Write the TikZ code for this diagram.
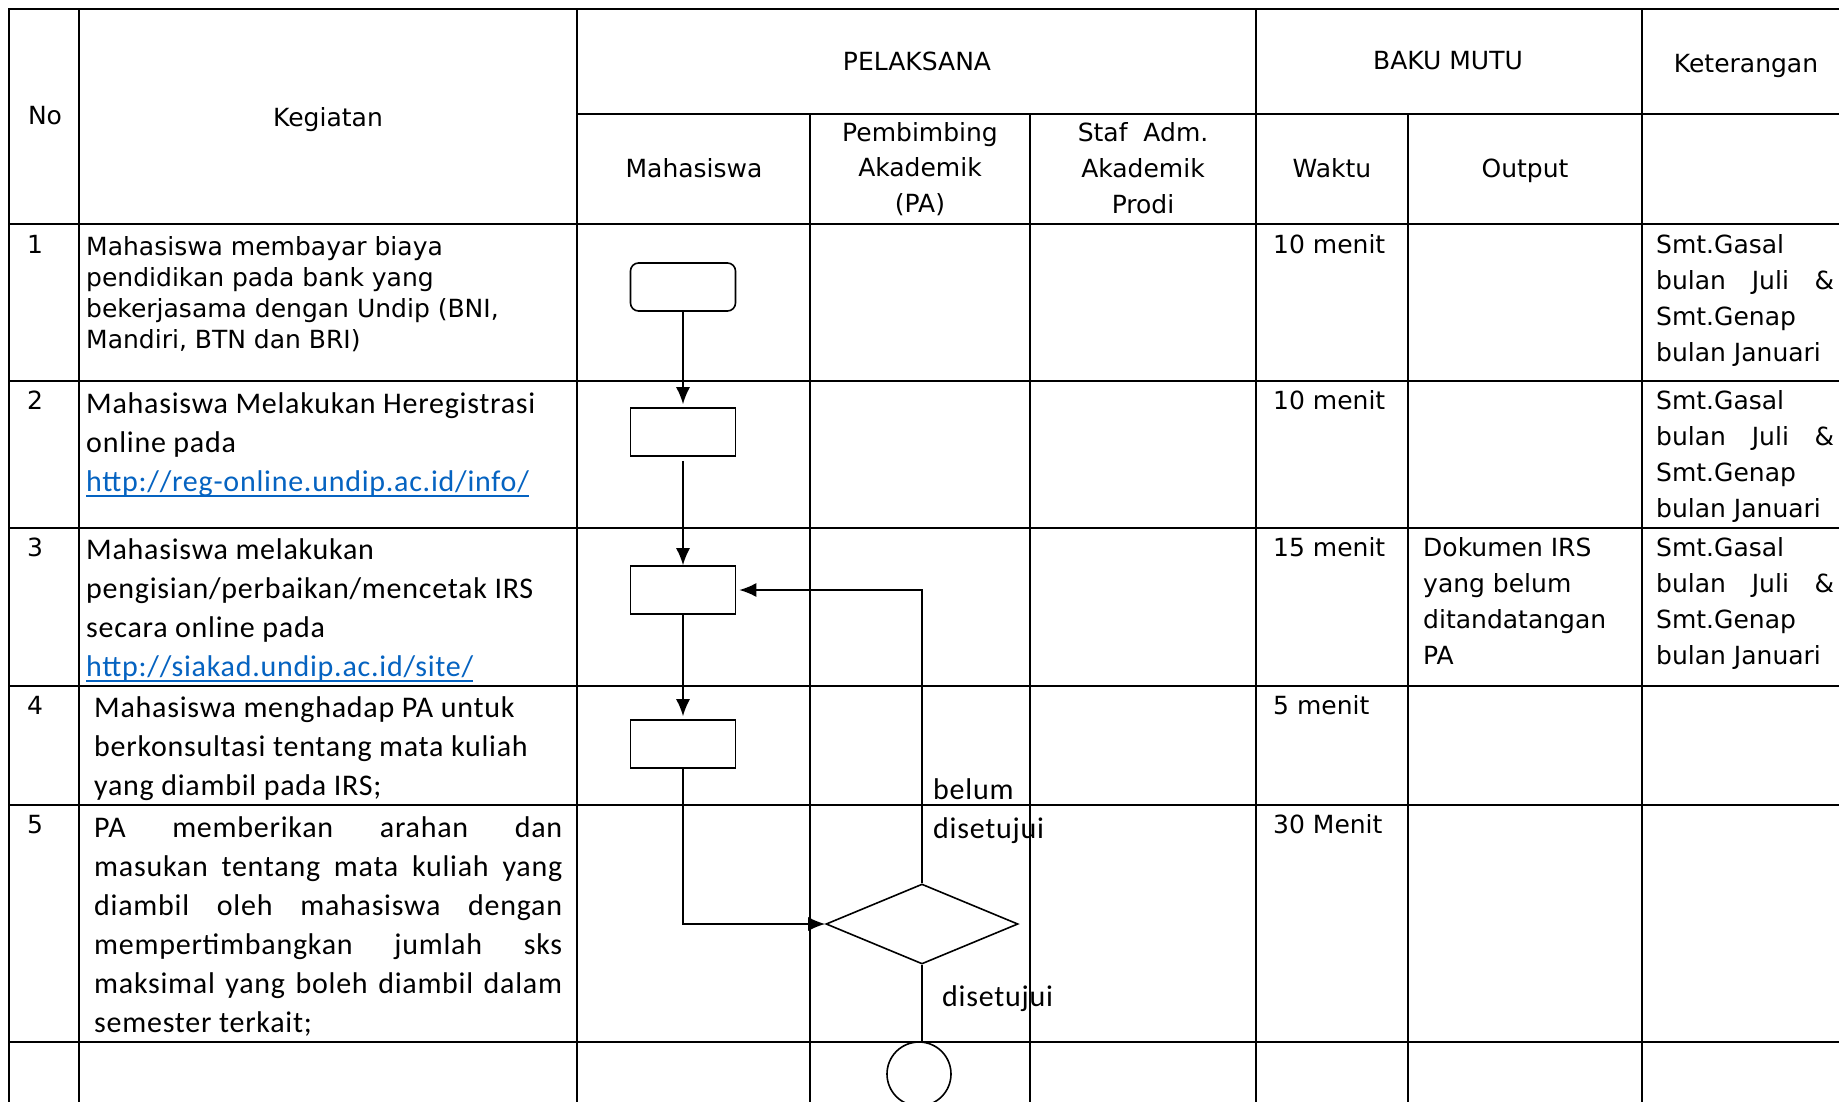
\documentclass[tikz,border=0pt]{standalone}
\usepackage{fontspec}
\setmainfont{DejaVu Sans}
\newfontfamily\calfont[LetterSpace=2.5]{Carlito}
\usetikzlibrary{shapes.geometric, arrows.meta}

\definecolor{linkblue}{RGB}{5,99,193}
% underlined hyperlink text
\newcommand{\tautan}[1]{{\color{linkblue}\setbox0=\hbox{#1}\rlap{\rule[-6pt]{\wd0}{2pt}}\box0}}

\tikzset{
  garis/.style={line width=2.2pt, line cap=rect},
  alur/.style={line width=1.6pt},
  panah/.style={alur, -{Latex[length=17pt, width=14pt]}},
  kotak/.style={draw, alur, minimum width=105pt, minimum height=48pt, inner sep=0pt},
  putusan/.style={draw, alur, diamond, minimum width=192pt, minimum height=80pt, inner sep=0pt},
  akhir/.style={draw, alur, circle, minimum size=64pt, inner sep=0pt},
  kepala/.style={inner sep=0pt, align=center, font=\fontsize{25}{35.7}\selectfont},
  tks/.style={inner sep=0pt, anchor=base west, font=\fontsize{25}{36}\selectfont},
  tksrapat/.style={tks, font=\fontsize{25}{31.3}\selectfont},
  tksbesar/.style={tks, font=\calfont\fontsize{30}{39}\selectfont},
}

\begin{document}
\begin{tikzpicture}[x=1pt, y=-1pt]
  % Fix the page to the size of the reference
  \useasboundingbox (0,0) rectangle (1839,1102);
  \fill[white] (0,0) rectangle (1839,1102);

  % Horizontal rules of the table
  \draw[garis] (9,9) -- (1839,9);
  \draw[garis] (577,114) -- (1839,114);
  \foreach \y in {224,381,528,686,805,1042} {
    \draw[garis] (9,\y) -- (1839,\y);
  }
  % Vertical rules: full height ones, then the ones under the split header
  \foreach \x in {9,79,577,1256,1642} {
    \draw[garis] (\x,9) -- (\x,1102);
  }
  \foreach \x in {810,1030,1408} {
    \draw[garis] (\x,114) -- (\x,1102);
  }

  % Header cells
  \node[kepala] (hno) at (45,116) {No};
  \node[kepala] (hkeg) at (328,120) {Kegiatan};
  \node[kepala] (hpel) at (917,61) {PELAKSANA};
  \node[kepala] (hbaku) at (1448,61) {BAKU MUTU};
  \node[kepala] (hket) at (1746,66) {Keterangan};
  \node[kepala] (hmhs) at (694,168) {Mahasiswa};
  \node[kepala] (hpa) at (920,169) {Pembimbing\\Akademik\\(PA)};
  \node[kepala] (hstaf) at (1143,168) {Staf\ \ Adm.\\Akademik\\Prodi};
  \node[kepala] (hwaktu) at (1332,168) {Waktu};
  \node[kepala] (houtput) at (1525,171) {Output};

  % Row numbers and times
  \foreach \n/\y/\t in {1/253/10 menit, 2/409/10 menit, 3/556/15 menit, 4/714/5 menit, 5/833/30 Menit} {
    \node[tks] (no\n) at (27,\y) {\n};
    \node[tks] (waktu\n) at (1273,\y) {\t};
  }

  % Keterangan for the first three rows
  \foreach \n/\y in {1/253, 2/409, 3/556} {
    \node[tks] (ket\n) at (1656,\y) {\parbox[t]{178pt}{Smt.Gasal\\
      \makebox[178pt][s]{bulan Juli \&}\\Smt.Genap\\bulan Januari}};
  }

  % Output of row 3
  \node[tks] (out3) at (1423,556) {\parbox[t]{200pt}{Dokumen IRS\\yang belum\\ditandatangan\\PA}};

  % Kegiatan texts
  \node[tksrapat] (keg1) at (86,255) {\parbox[t]{480pt}{Mahasiswa membayar biaya\\
    pendidikan pada bank yang\\bekerjasama dengan Undip (BNI,\\Mandiri, BTN dan BRI)}};
  \node[tksbesar] (keg2) at (86,413) {\parbox[t]{480pt}{Mahasiswa Melakukan Heregistrasi\\
    online pada\\\tautan{http://reg-online.undip.ac.id/info/}}};
  \node[tksbesar] (keg3) at (86,559) {\parbox[t]{480pt}{Mahasiswa melakukan\\
    pengisian/perbaikan/mencetak IRS\\secara online pada\\\tautan{http://siakad.undip.ac.id/site/}}};
  \node[tksbesar] (keg4) at (94,717) {\parbox[t]{480pt}{Mahasiswa menghadap PA untuk\\
    berkonsultasi tentang mata kuliah\\yang diambil pada IRS;}};
  \node[tksbesar] (keg5) at (94,837) {\parbox[t]{468pt}{%
    \makebox[468pt][s]{PA memberikan arahan dan}\\
    \makebox[468pt][s]{masukan tentang mata kuliah yang}\\
    \makebox[468pt][s]{diambil oleh mahasiswa dengan}\\
    \makebox[468pt][s]{mempertimbangkan jumlah sks}\\
    \makebox[468pt][s]{maksimal yang boleh diambil dalam}\\
    semester terkait;}};

  % Flowchart symbols in the Mahasiswa and PA lanes
  \node[kotak, rounded corners=8pt] (bayar) at (683,287) {};
  \node[kotak] (heregis) at (683,432) {};
  \node[kotak] (isiirs) at (683,590) {};
  \node[kotak] (konsul) at (683,744) {};
  \node[putusan] (cek) at (922,924) {};
  \node[akhir] (selesai) at (919,1074) {};

  % Connectors between the symbols
  \draw[panah, shorten >=3pt] (bayar) -- (heregis);
  \draw[panah, shorten <=4pt] (heregis) -- (isiirs);
  \draw[panah, shorten >=3pt] (isiirs) -- (konsul);
  \draw[panah] (konsul.south) |- (cek.west);
  \draw[panah, shorten >=3pt] (cek.north) |- (isiirs.east);
  \draw[alur] (cek.south) -- (cek.south |- selesai.north);

  % Decision labels
  \node[tksbesar] (lbelum) at (933,799) {\parbox[t]{150pt}{belum\\disetujui}};
  \node[tksbesar] (lsetuju) at (942,1006) {disetujui};
\end{tikzpicture}
\end{document}
